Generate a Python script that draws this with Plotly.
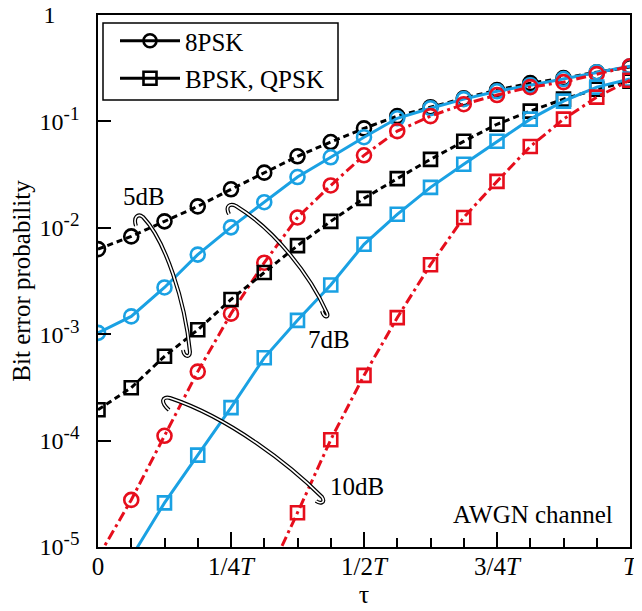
import plotly.graph_objects as go

# ---------------- data ----------------
tau = [k / 16 for k in range(17)]

psk8_5dB = [6.3e-3, 8.3e-3, 1.15e-2, 1.59e-2, 2.3e-2, 3.3e-2, 4.7e-2, 6.4e-2, 8.6e-2,
            0.112, 0.136, 0.165, 0.197, 0.229, 0.255, 0.29, 0.324]
psk8_7dB = [1.03e-3, 1.47e-3, 2.75e-3, 5.6e-3, 1.01e-2, 1.74e-2, 3.0e-2, 4.6e-2, 7.1e-2,
            0.107, 0.133, 0.162, 0.192, 0.219, 0.25, 0.29, 0.33]
psk8_10dB = [8.0e-6, 2.77e-5, 1.11e-4, 4.45e-4, 1.56e-3, 4.7e-3, 1.25e-2, 2.5e-2, 4.8e-2,
             8.1e-2, 0.112, 0.145, 0.177, 0.21, 0.234, 0.278, 0.33]
bpsk_5dB = [1.95e-4, 3.14e-4, 6.2e-4, 1.1e-3, 2.12e-3, 3.8e-3, 6.8e-3, 1.15e-2, 1.89e-2,
            2.9e-2, 4.4e-2, 6.5e-2, 9.4e-2, 0.125, 0.162, 0.201, 0.239]
bpsk_7dB = [None, 8.0e-6, 2.6e-5, 7.3e-5, 2.04e-4, 6.0e-4, 1.35e-3, 2.9e-3, 7.0e-3,
            1.34e-2, 2.4e-2, 3.96e-2, 6.5e-2, 0.105, 0.155, 0.21, 0.25]
bpsk_10dB = [None, None, None, None, None, 4.5e-6, 2.1e-5, 1.02e-4, 4.1e-4,
             1.43e-3, 4.5e-3, 1.25e-2, 2.73e-2, 5.8e-2, 0.105, 0.169, 0.244]

x_tickvals = [0, 0.25, 0.5, 0.75, 1]
x_ticktext = ["0", "1/4<i>T</i>", "1/2<i>T</i>", "3/4<i>T</i>", "<i>T</i>"]
y_tickvals = [1e-5, 1e-4, 1e-3, 1e-2, 1e-1, 1]
y_exponents = ["-5", "-4", "-3", "-2", "-1", None]
legend_names = ["8PSK", "BPSK, QPSK"]

# ---------------- style ----------------
FONT = "Liberation Serif"
BLACK, BLUE, RED = "#000000", "#1aa1e3", "#e60e1c"
PAGE_W, PAGE_H = 642, 611
OFF = 8                      # default page body margin
W, H = PAGE_W - OFF, PAGE_H - OFF
L, R, T, B = 98, 630, 15, 547   # plot area in page pixels


def px(x, y):
    return (x - L) / (R - L), (B - y) / (B - T)


y_ticktext = [
    "1" + "&#160;" * 4 if e is None else
    "10<sup><span style='font-size:19px'>" + e + "</span></sup>"
    for e in y_exponents
]

fig = go.Figure()

series = [
    (psk8_5dB, BLACK, "6px,4px", "circle-open"),
    (psk8_7dB, BLUE, "solid", "circle-open"),
    (psk8_10dB, RED, "10px,4px,3px,4px", "circle-open"),
    (bpsk_5dB, BLACK, "6px,4px", "square-open"),
    (bpsk_7dB, BLUE, "solid", "square-open"),
    (bpsk_10dB, RED, "10px,4px,3px,4px", "square-open"),
]
for ys, col, dash, sym in series:
    fig.add_trace(go.Scatter(
        x=tau, y=ys, mode="lines+markers", showlegend=False,
        line=dict(color=col, width=3, dash=dash),
        marker=dict(symbol=sym, size=14 if sym.startswith("circle") else 13,
                    color=col, line=dict(width=2.6, color=col)),
    ))

for i, (name, sym) in enumerate(zip(legend_names, ["circle-open", "square-open"])):
    fig.add_trace(go.Scatter(
        x=[None], y=[None], mode="lines+markers", name=name, legendgroup=f"g{i}",
        line=dict(color=BLACK, width=3),
        marker=dict(symbol=sym, size=13, color=BLACK, line=dict(width=2.6, color=BLACK)),
    ))

# legend frame
x0, y1 = px(103, 23)
x1, y0 = px(338, 100)
fig.add_shape(type="rect", xref="paper", yref="paper", x0=x0, x1=x1, y0=y0, y1=y1,
              fillcolor="white", line=dict(color=BLACK, width=1.5), layer="above")

# curved annotation arrows (double-line arcs)
arcs = [
    [(136, 226), (133, 217), (138, 213), (143, 217), (165, 240), (185, 300), (190, 352),
     (190, 358), (184, 357), (183, 350)],
    [(229, 214), (225, 206), (230, 203), (236, 206), (275, 230), (310, 275), (327, 313),
     (329, 318), (324, 318), (322, 311)],
    [(169, 410), (160, 402), (162, 396), (170, 398), (230, 418), (290, 465), (322, 497),
     (326, 503), (320, 504), (316, 501)],
]
for pts in arcs:
    p = [px(*q) for q in pts]
    d = "M {:.4f},{:.4f}".format(*p[0])
    for i in range(1, len(p), 3):
        d += " C {:.4f},{:.4f} {:.4f},{:.4f} {:.4f},{:.4f}".format(*p[i], *p[i + 1], *p[i + 2])
    fig.add_shape(type="path", path=d, xref="paper", yref="paper",
                  line=dict(color=BLACK, width=4), layer="above")
    fig.add_shape(type="path", path=d, xref="paper", yref="paper",
                  line=dict(color="white", width=1.6), layer="above")

labels = [("5dB", 144, 197, "center"), ("7dB", 329, 339, "center"),
          ("10dB", 357, 486, "center"), ("AWGN channel", 615, 514, "right")]
for txt, x, y, anc in labels:
    xp, yp = px(x, y)
    fig.add_annotation(text=txt, x=xp, y=yp, xref="paper", yref="paper",
                       showarrow=False, xanchor=anc, yanchor="middle",
                       font=dict(family=FONT, size=25, color=BLACK))

lx, ly = px(115, 18)
fig.update_layout(
    width=W, height=H,
    margin=dict(l=L - OFF, r=PAGE_W - R, t=T - OFF, b=PAGE_H - B),
    paper_bgcolor="white", plot_bgcolor="white",
    font=dict(family=FONT, size=24, color=BLACK),
    legend=dict(x=lx, y=ly, xanchor="left", yanchor="top",
                borderwidth=0, bgcolor="rgba(0,0,0,0)",
                font=dict(family=FONT, size=25), itemwidth=60,
                tracegroupgap=2),
    xaxis=dict(range=[0, 1], tickvals=x_tickvals, ticktext=x_ticktext,
               ticks="inside", ticklen=15, tickwidth=1.5, tickcolor=BLACK,
               minor=dict(tickvals=tau, ticks="inside", ticklen=9, tickwidth=1.5, tickcolor=BLACK),
               showline=True, linecolor=BLACK, linewidth=1.5, mirror=True,
               showgrid=False, zeroline=False, ticklabelstandoff=-4, automargin=False,
               ticklabeloverflow="allow", tickfont=dict(size=25),
               title=dict(text="τ", font=dict(size=26), standoff=6)),
    yaxis=dict(type="log", range=[-5, 0], tickvals=y_tickvals, ticktext=y_ticktext,
               ticks="inside", ticklen=13, tickwidth=1.5, tickcolor=BLACK,
               showline=True, linecolor=BLACK, linewidth=1.5, mirror=True,
               showgrid=False, zeroline=False, ticklabelstandoff=12, automargin=False,
               ticklabeloverflow="allow", tickfont=dict(size=24),
               title=dict(text="Bit error probability", font=dict(size=25), standoff=10)),
)

fig.write_html("out.html")
